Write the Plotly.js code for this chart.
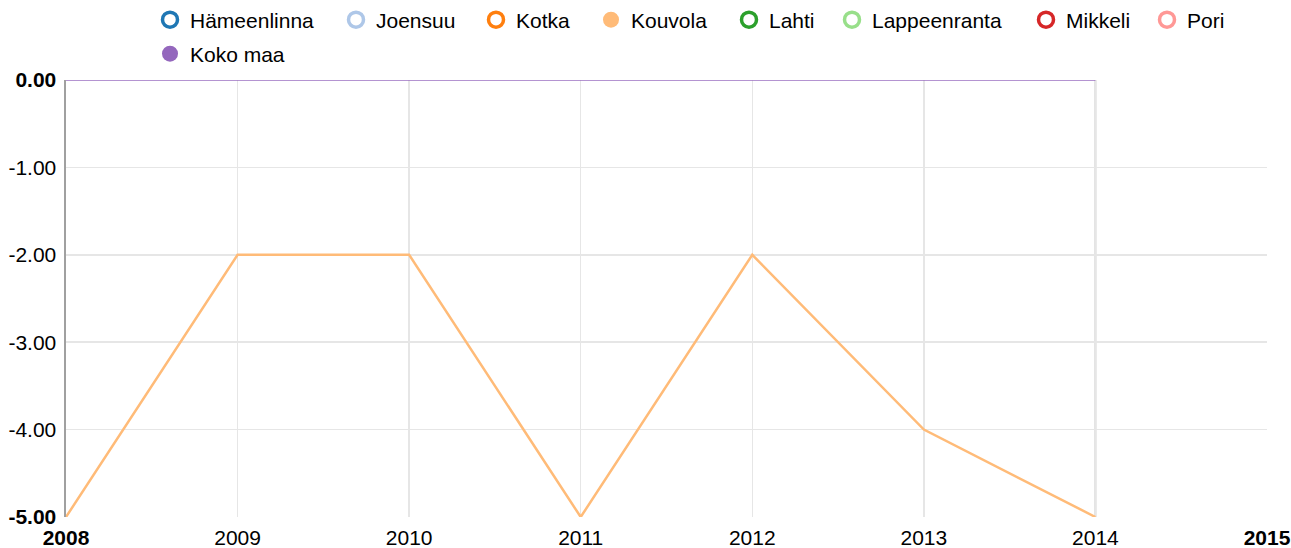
<!DOCTYPE html>
<html>
<head>
<meta charset="utf-8">
<script src="https://cdn.plot.ly/plotly-3.0.1.min.js"></script>
<style>html,body{margin:0;padding:0;background:#fff;}#chart{width:1291px;height:548px;}</style>
</head>
<body>
<div id="chart"></div>
<script>
const years = [2008, 2009, 2010, 2011, 2012, 2013, 2014];
const kouvola = [-5, -2, -2, -5, -2, -4, -5];
const kokoMaa = [0, 0, 0, 0, 0, 0, 0];
const seriesNames = ["Hämeenlinna", "Joensuu", "Kotka", "Kouvola", "Lahti", "Lappeenranta", "Mikkeli", "Pori", "Koko maa"];
const seriesColors = ["#1f77b4", "#aec7e8", "#ff7f0e", "#ffbb78", "#2ca02c", "#98df8a", "#d62728", "#ff9896", "#9467bd"];
const seriesEnabled = [false, false, false, true, false, false, false, false, true];
const xTickVals = [2008, 2009, 2010, 2011, 2012, 2013, 2014, 2015];
const xTickText = ["<b>2008</b>", "2009", "2010", "2011", "2012", "2013", "2014", "<b>2015</b>"];
const yTickVals = [-5, -4, -3, -2, -1, 0];
const yTickText = ["<b>-5.00</b>", "-4.00", "-3.00", "-2.00", "-1.00", "<b>0.00</b>"];

// legend layout (pixel position of each legend circle centre)
const legendCx = [171, 357, 497, 612, 750, 853, 1047, 1168, 171];
const legendCy = [20, 20, 20, 20, 20, 20, 20, 20, 54];

const W = 1291, H = 548;
const traces = [];
const layout = {
  width: W, height: H,
  margin: {l: 66, r: 24, t: 80, b: 31},
  paper_bgcolor: '#fff', plot_bgcolor: '#fff',
  font: {family: 'Liberation Sans, Arial, sans-serif', size: 21, color: '#000'},
  showlegend: true,
  xaxis: {range: [2008, 2015], tickvals: xTickVals, ticktext: xTickText, showgrid: true, gridcolor: '#e6e6e6', gridwidth: 1.5,
    zeroline: false, showline: false, ticks: '', ticklabelstandoff: 6, fixedrange: true},
  yaxis: {range: [-5, 0], tickvals: yTickVals, ticktext: yTickText, showgrid: true, gridcolor: '#e6e6e6', gridwidth: 1.5,
    zeroline: false, showline: true, linecolor: '#a0a0a0', linewidth: 2.5, ticks: '', ticklabelstandoff: 3, fixedrange: true},
  shapes: [{type: 'line', xref: 'x', yref: 'paper', x0: 2014, x1: 2014, y0: 0, y1: 1, line: {color: '#cfcfcf', width: 2}, layer: 'below'}]
};

seriesNames.forEach((n, i) => {
  const key = i === 0 ? 'legend' : 'legend' + (i + 1);
  const c = seriesColors[i];
  traces.push({
    x: [null], y: [null], type: 'scatter', mode: 'markers', name: n, legend: key,
    legendgroup: n,
    marker: seriesEnabled[i] ? {symbol: 'circle', size: 18, color: c}
                             : {symbol: 'circle-open', size: 15, color: c, line: {width: 3.5, color: c}},
    hoverinfo: 'skip'
  });
  layout[key] = {
    x: (legendCx[i] - 21) / W, xref: 'container', xanchor: 'left',
    y: 1 - legendCy[i] / H, yref: 'container', yanchor: 'middle',
    orientation: 'h', font: {size: 21, color: '#000'}, itemwidth: 30,
    bgcolor: 'rgba(0,0,0,0)', borderwidth: 0
  };
});

traces.push({x: years, y: kouvola, type: 'scatter', mode: 'lines', name: 'Kouvola', legendgroup: 'Kouvola', showlegend: false,
  line: {color: '#ffbb78', width: 2.5}});
traces.push({x: years, y: kokoMaa, type: 'scatter', mode: 'lines', name: 'Koko maa', legendgroup: 'Koko maa', showlegend: false,
  line: {color: '#9467bd', width: 2}, opacity: 0.7, cliponaxis: false});

Plotly.newPlot('chart', traces, layout, {displayModeBar: false, staticPlot: true});
</script>
</body>
</html>
